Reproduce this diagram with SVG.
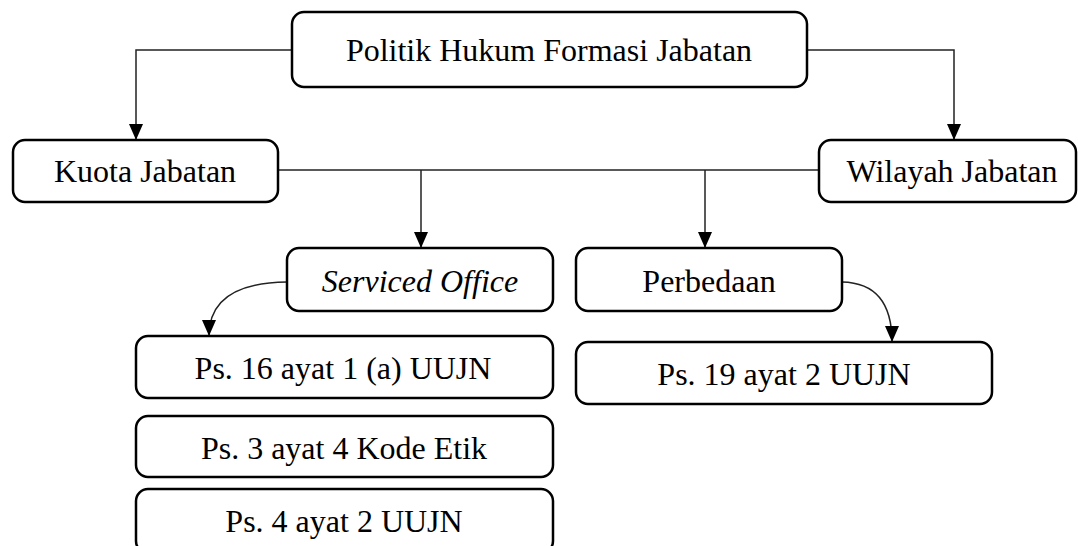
<svg xmlns="http://www.w3.org/2000/svg" width="1078" height="546" viewBox="0 0 1078 546">
<style>
.box{fill:#fff;stroke:#000;stroke-width:2.5}
.lbl{font-family:"Liberation Serif","Times New Roman",serif;font-size:32px;fill:#000;text-anchor:middle}
.it{font-style:italic}
.con{fill:none;stroke:#222;stroke-width:1.5}
</style>
<defs>
<marker id="arr" markerUnits="userSpaceOnUse" markerWidth="16" markerHeight="14" refX="16" refY="7" orient="auto">
<path d="M0,0 L16,7 L0,14 z" fill="#000"/>
</marker>
</defs>
<rect width="1078" height="546" fill="#fff"/>
<g id="connectors">
<path class="con" d="M292,50 H136 V140" marker-end="url(#arr)"/>
<path class="con" d="M807,50 H954 V140" marker-end="url(#arr)"/>
<path class="con" d="M278,170 H819"/>
<path class="con" d="M421,170 V248" marker-end="url(#arr)"/>
<path class="con" d="M705,170 V248" marker-end="url(#arr)"/>
<path class="con" d="M287,282 Q209,283 209,336" marker-end="url(#arr)"/>
<path class="con" d="M842,282 Q892,283 892,342" marker-end="url(#arr)"/>
</g>
<g id="politik">
<rect class="box" x="292" y="12" width="515" height="75" rx="12"/>
<text class="lbl" x="549" y="61">Politik Hukum Formasi Jabatan</text>
</g>
<g id="kuota">
<rect class="box" x="13" y="140" width="265" height="62" rx="12"/>
<text class="lbl" x="145" y="182">Kuota Jabatan</text>
</g>
<g id="wilayah">
<rect class="box" x="819" y="140" width="257" height="62" rx="12"/>
<text class="lbl" x="952" y="182">Wilayah Jabatan</text>
</g>
<g id="serviced">
<rect class="box" x="287" y="248" width="266" height="63" rx="12"/>
<text class="lbl it" x="420" y="292">Serviced Office</text>
</g>
<g id="perbedaan">
<rect class="box" x="576" y="248" width="266" height="63" rx="12"/>
<text class="lbl" x="709" y="292">Perbedaan</text>
</g>
<g id="ps16">
<rect class="box" x="136" y="336" width="417" height="62" rx="12"/>
<text class="lbl" x="343" y="379">Ps. 16 ayat 1 (a) UUJN</text>
</g>
<g id="ps3">
<rect class="box" x="136" y="416" width="417" height="61" rx="12"/>
<text class="lbl" x="344" y="459">Ps. 3 ayat 4 Kode Etik</text>
</g>
<g id="ps4">
<rect class="box" x="136" y="489" width="417" height="64" rx="12"/>
<text class="lbl" x="344" y="532">Ps. 4 ayat 2 UUJN</text>
</g>
<g id="ps19">
<rect class="box" x="576" y="342" width="416" height="62" rx="12"/>
<text class="lbl" x="784" y="385">Ps. 19 ayat 2 UUJN</text>
</g>
</svg>
